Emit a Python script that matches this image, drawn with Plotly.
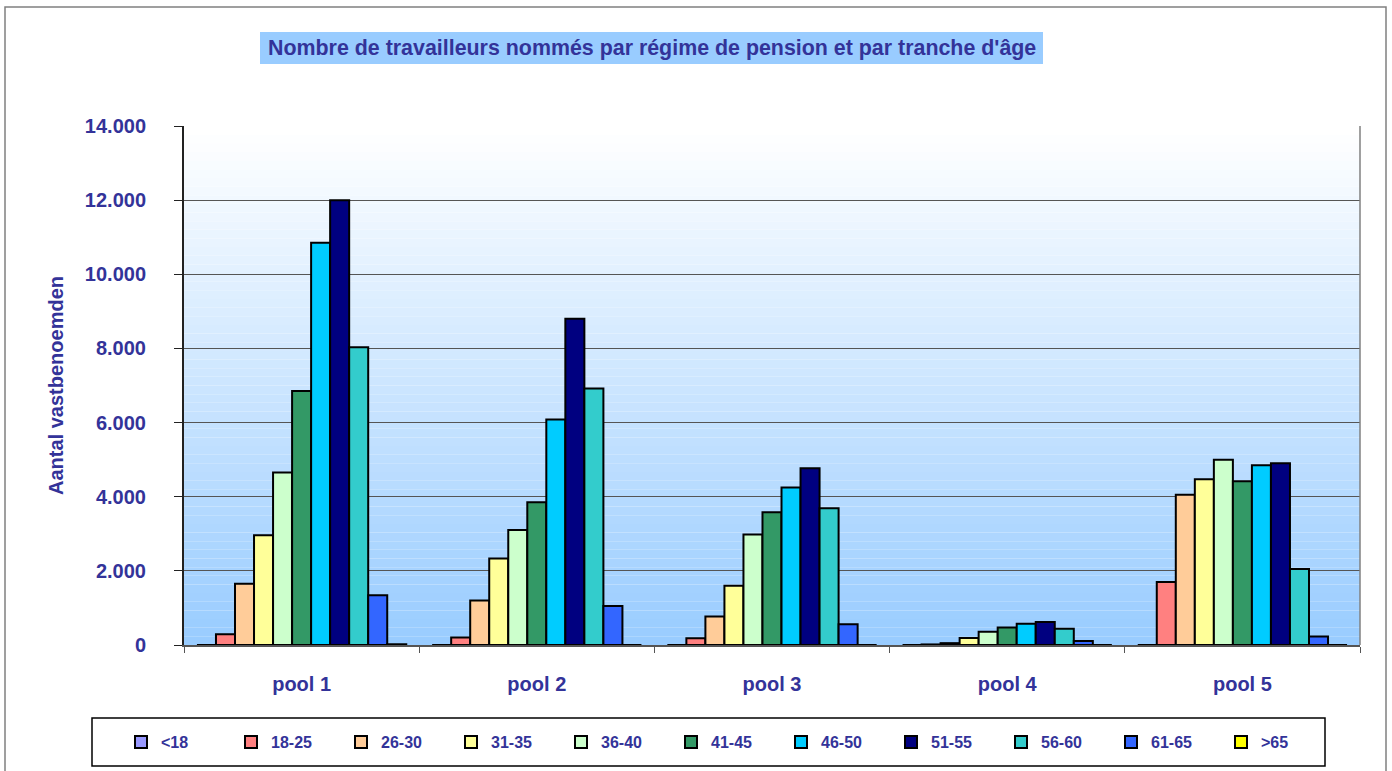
import plotly.graph_objects as go

# Data
pools = ["pool 1", "pool 2", "pool 3", "pool 4", "pool 5"]
age_groups = ["<18", "18-25", "26-30", "31-35", "36-40", "41-45",
              "46-50", "51-55", "56-60", "61-65", ">65"]

u18 = [0, 0, 0, 0, 0]
a18_25 = [290, 200, 180, 15, 1700]
a26_30 = [1650, 1200, 770, 50, 4050]
a31_35 = [2960, 2330, 1600, 190, 4470]
a36_40 = [4650, 3100, 2980, 360, 5000]
a41_45 = [6850, 3850, 3580, 470, 4420]
a46_50 = [10850, 6080, 4250, 570, 4850]
a51_55 = [12000, 8800, 4770, 620, 4900]
a56_60 = [8030, 6920, 3690, 440, 2050]
a61_65 = [1340, 1050, 560, 110, 230]
o65 = [20, 0, 0, 0, 0]

series = [u18, a18_25, a26_30, a31_35, a36_40, a41_45,
          a46_50, a51_55, a56_60, a61_65, o65]
colors = ["#9999FF", "#FF8080", "#FFCC99", "#FFFF99", "#CCFFCC", "#339966",
          "#00CCFF", "#000080", "#33CCCC", "#3366FF", "#FFFF00"]

TEXT = "#333399"
FONT = "Liberation Sans, Arial, sans-serif"

W, H = 1392, 771
L, R, T, B = 184, 32, 126, 126
PW, PH = W - L - R, H - T - B


def px(x):
    return (x - L) / PW


def py(y):
    return 1 - (y - T) / PH


fig = go.Figure()

for name, vals, col in zip(age_groups, series, colors):
    fig.add_trace(
        go.Bar(
            x=pools,
            y=vals,
            name=name,
            marker=dict(color=col, line=dict(color="black", width=2)),
        )
    )

# Gradient background of the plot area
shapes = []
n = 60
top_rgb = (255, 255, 255)
bot_rgb = (153, 204, 255)
for i in range(n):
    f = i / (n - 1)
    c = tuple(round(bot_rgb[k] + (top_rgb[k] - bot_rgb[k]) * f) for k in range(3))
    shapes.append(dict(
        type="rect", xref="x domain", yref="y domain",
        x0=0, x1=1, y0=i / n, y1=(i + 1) / n,
        fillcolor="rgb(%d,%d,%d)" % c, line=dict(width=0), layer="below",
    ))

# right border of plot area
shapes.append(dict(type="line", xref="x domain", yref="y domain",
                   x0=1, x1=1, y0=0, y1=1, line=dict(color="#808080", width=1.5)))
# outer frame
shapes.append(dict(type="rect", xref="paper", yref="paper",
                   x0=px(5), x1=px(1386), y0=py(780), y1=py(7),
                   line=dict(color="#808080", width=1.5)))
# legend box
shapes.append(dict(type="rect", xref="paper", yref="paper",
                   x0=px(92), x1=px(1325), y0=py(766), y1=py(718),
                   line=dict(color="black", width=1.5), fillcolor="white", layer="below"))
# title box
shapes.append(dict(type="rect", xref="paper", yref="paper",
                   x0=px(260), x1=px(1043), y0=py(64), y1=py(32),
                   line=dict(width=0), fillcolor="#99CCFF"))

fig.update_layout(
    width=W,
    height=H,
    margin=dict(l=L, r=R, t=T, b=B, autoexpand=False),
    paper_bgcolor="white",
    plot_bgcolor="rgba(0,0,0,0)",
    separators=",.",
    font=dict(family=FONT, color=TEXT, size=20, weight="bold"),
    barmode="group",
    bargap=0.11,
    bargroupgap=0,
    showlegend=True,
    legend=dict(
        orientation="h",
        x=px(121), xanchor="left",
        y=py(742), yanchor="middle",
        font=dict(size=16, color=TEXT, weight="bold"),
        bgcolor="rgba(0,0,0,0)",
        itemwidth=30,
        entrywidth=65,
        entrywidthmode="pixels",
        itemclick=False,
    ),
    shapes=shapes,
    annotations=[dict(
        text="Nombre de travailleurs nommés par régime de pension et par tranche d'âge",
        xref="paper", yref="paper", x=px(651.5), y=py(48),
        xanchor="center", yanchor="middle", showarrow=False,
        font=dict(size=21.4, color=TEXT, weight="bold"),
    )],
    xaxis=dict(
        showline=True, linecolor="#555555", linewidth=2,
        ticks="outside", tickson="boundaries", ticklen=6, tickcolor="#555555",
        showgrid=False,
        ticklabelstandoff=20,
        tickfont=dict(size=20, color=TEXT, weight="bold"),
    ),
    yaxis=dict(
        range=[0, 14000], dtick=2000, tickformat=",d",
        showline=True, linecolor="#222222", linewidth=2,
        ticks="outside", ticklen=8, tickcolor="#222222",
        showgrid=True, gridcolor="#555555", gridwidth=1,
        zeroline=False,
        ticklabelstandoff=24,
        tickfont=dict(size=20, color=TEXT, weight="bold"),
        title=dict(text="Aantal vastbenoemden", standoff=16,
                   font=dict(size=20, color=TEXT, weight="bold")),
    ),
)

fig.write_html("out.html", config={"displayModeBar": False},
               post_script="document.body.style.margin='0';")
